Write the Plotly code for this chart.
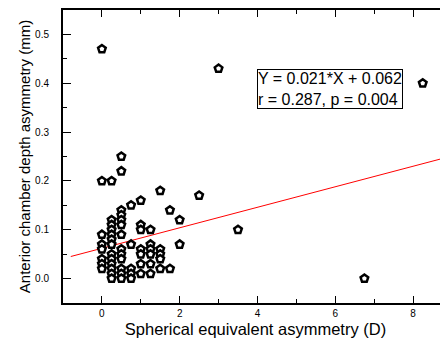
import plotly.graph_objects as go

# Spherical equivalent asymmetry (D)
se_asym = [0, 0, 0, 0, 0, 0, 0, 0,
           0.25, 0.25, 0.25, 0.25, 0.25, 0.25, 0.25, 0.25, 0.25, 0.25, 0.25, 0.25, 0.25,
           0.5, 0.5, 0.5, 0.5, 0.5, 0.5, 0.5, 0.5, 0.5, 0.5, 0.5, 0.5, 0.5,
           0.75, 0.75, 0.75, 0.75, 0.75,
           1.0, 1.0, 1.0, 1.0, 1.0, 1.0, 1.0,
           1.25, 1.25, 1.25, 1.25, 1.25, 1.25,
           1.5, 1.5, 1.5, 1.5, 1.5,
           1.75, 1.75,
           2.0, 2.0,
           2.5, 3.0, 3.5, 6.75, 8.25]
# Anterior chamber depth asymmetry (mm)
acd_asym = [0.47, 0.20, 0.09, 0.07, 0.06, 0.04, 0.03, 0.02,
            0.20, 0.12, 0.11, 0.10, 0.09, 0.08, 0.07, 0.05, 0.04, 0.03, 0.02, 0.01, 0.00,
            0.25, 0.22, 0.14, 0.13, 0.12, 0.11, 0.09, 0.06, 0.05, 0.04, 0.02, 0.01, 0.00,
            0.15, 0.07, 0.02, 0.01, 0.00,
            0.16, 0.11, 0.10, 0.06, 0.05, 0.03, 0.01,
            0.10, 0.07, 0.06, 0.05, 0.03, 0.01,
            0.18, 0.06, 0.05, 0.04, 0.02,
            0.14, 0.02,
            0.12, 0.07,
            0.17, 0.43, 0.10, 0.00, 0.40]

slope = 0.021
intercept = 0.062
r_value = 0.287
p_value = 0.004
fit_x = [-0.8, 9.0]
fit_y = [slope * v + intercept for v in fit_x]

x_ticks = [0, 2, 4, 6, 8]
y_ticks = [0.0, 0.1, 0.2, 0.3, 0.4, 0.5]

FONT = "Liberation Sans, Arial, sans-serif"

fig = go.Figure()
fig.add_trace(go.Scatter(
    x=fit_x, y=fit_y, mode="lines",
    line=dict(color="red", width=1), showlegend=False, hoverinfo="skip"))
fig.add_trace(go.Scatter(
    x=se_asym, y=acd_asym, mode="markers",
    marker=dict(symbol="pentagon", size=8, color="white",
                line=dict(color="black", width=2.5)),
    showlegend=False))
# invisible trace to host the right-side tick axis
fig.add_trace(go.Scatter(x=[0], y=[0], yaxis="y2", mode="markers",
                         marker=dict(opacity=0), showlegend=False, hoverinfo="skip"))

fig.add_annotation(
    x=0.694, y=0.732, xref="paper", yref="paper", xanchor="center", yanchor="middle",
    text=f"Y = {slope}*X + {intercept}<br>r = {r_value}, p = {p_value}",
    showarrow=False, align="left",
    font=dict(family=FONT, size=16, color="black"),
    bordercolor="black", borderwidth=1, borderpad=0, bgcolor="white")

fig.update_layout(
    width=440, height=330,
    margin=dict(l=55, r=0, t=2, b=35),
    paper_bgcolor="white", plot_bgcolor="white",
    font=dict(family=FONT, color="black"),
    xaxis=dict(
        range=[-1, 8.9], tickvals=x_ticks, ticktext=[str(v) for v in x_ticks],
        ticks="inside", ticklen=7, tickwidth=1, tickcolor="black",
        minor=dict(dtick=1, tick0=1, ticks="inside", ticklen=4, tickcolor="black", showgrid=False),
        showline=True, linecolor="black", linewidth=2, mirror="ticks",
        showgrid=False, zeroline=False,
        tickfont=dict(size=10), ticklabelstandoff=0,
        title=dict(text="Spherical equivalent asymmetry (D)", font=dict(size=16.5), standoff=6)),
    yaxis=dict(
        range=[-0.05, 0.55], tickvals=y_ticks, ticktext=[f"{v:.1f}" for v in y_ticks],
        ticks="inside", ticklen=8, tickwidth=1, tickcolor="black",
        minor=dict(dtick=0.1, tick0=0.05, ticks="inside", ticklen=4, tickcolor="black", showgrid=False),
        showline=True, linecolor="black", linewidth=2,
        showgrid=False, zeroline=False,
        tickfont=dict(size=10), ticklabelstandoff=10,
        title=dict(text="Anterior chamber depth asymmetry (mm)", font=dict(size=15), standoff=1)),
    yaxis2=dict(
        overlaying="y", side="right", range=[-0.05, 0.55], tickvals=y_ticks,
        showticklabels=False, ticks="inside", ticklen=5, tickcolor="black",
        minor=dict(dtick=0.1, tick0=0.05, ticks="inside", ticklen=2, tickcolor="black", showgrid=False),
        showline=False, showgrid=False, zeroline=False),
)

fig.write_html("out.html")
